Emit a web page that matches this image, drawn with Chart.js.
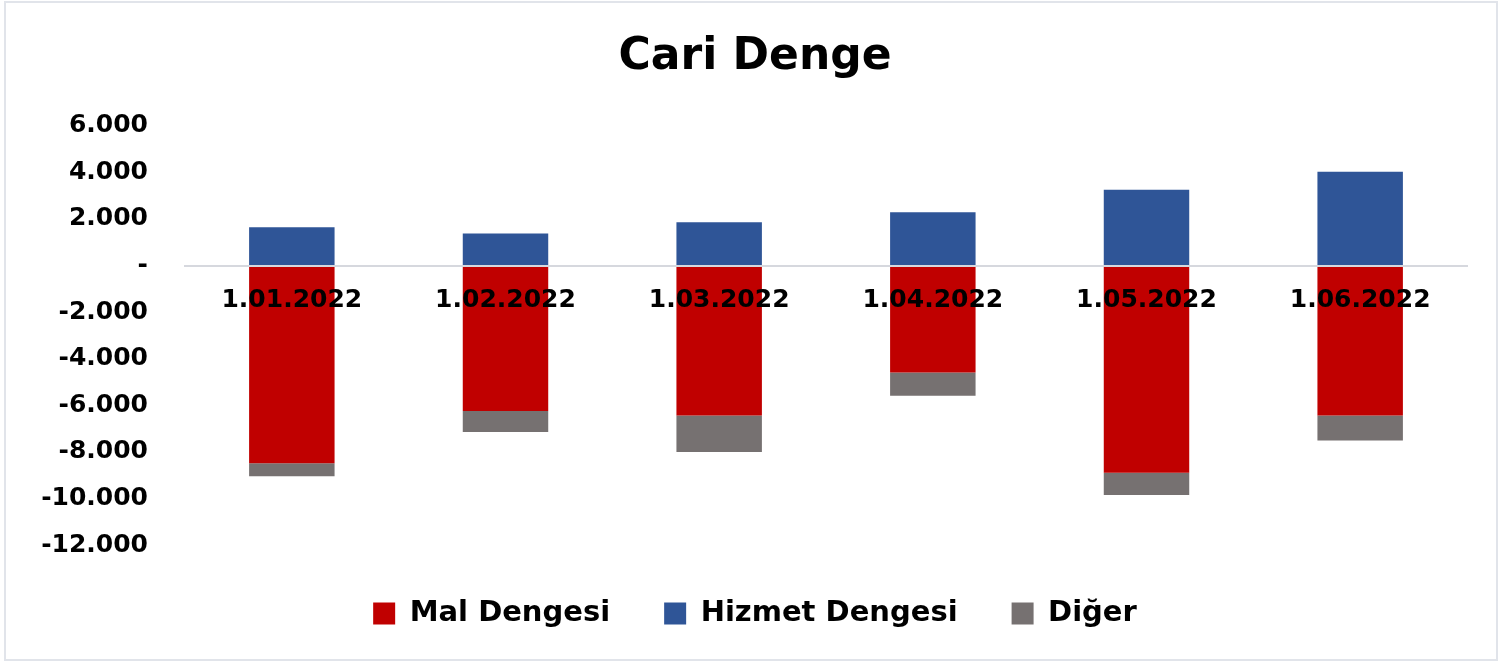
<!DOCTYPE html>
<html>
<head>
<meta charset="utf-8">
<script src="https://cdn.jsdelivr.net/npm/chart.js@4"></script>
<style>
  html, body { margin: 0; padding: 0; background: #fff; }
  #wrap { position: absolute; left: 0; top: 0; width: 1510px; height: 664px; }
  #frame { position: absolute; left: 4px; top: 1px; width: 1494px; height: 660px; box-sizing: border-box; border: 2px solid #e1e4ea; pointer-events: none; }
</style>
</head>
<body>
<div id="wrap"><canvas id="cariChart" width="1510" height="664"></canvas></div>
<div id="frame"></div>
<script>
// aylar ve seriler (milyon $)
const categories = ['1.01.2022', '1.02.2022', '1.03.2022', '1.04.2022', '1.05.2022', '1.06.2022'];
const malDengesi = [-8490, -6250, -6440, -4590, -8900, -6440];
const hizmetDengesi = [1640, 1380, 1860, 2290, 3250, 4030];
const diger = [-560, -900, -1570, -1000, -950, -1070];

const FONT = 'DejaVu Sans';

// 12000 -> "12.000", 0 -> "-"
function trNumber(v) {
    if (v === 0) return '-';
    const s = Math.abs(v).toString().replace(/\B(?=(\d{3})+(?!\d))/g, '.');
    return (v < 0 ? '-' : '') + s;
}

const ctx = document.getElementById('cariChart');
new Chart(ctx, {
    type: 'bar',
    data: {
        labels: categories,
        datasets: [
            { label: 'Mal Dengesi', data: malDengesi, backgroundColor: '#C00000', stack: 's0' },
            { label: 'Hizmet Dengesi', data: hizmetDengesi, backgroundColor: '#2F5597', stack: 's0' },
            { label: 'Diğer', data: diger, backgroundColor: '#767171', stack: 's0' }
        ]
    },
    options: {
        responsive: false,
        animation: false,
        layout: { padding: { left: 0, right: 0, top: 0, bottom: 26 } },
        datasets: { bar: { categoryPercentage: 1, barPercentage: 0.4 } },
        plugins: {
            title: {
                display: true,
                text: 'Cari Denge',
                color: '#000',
                font: { family: FONT, size: 44, weight: 'bold' },
                padding: { top: 31, bottom: 42 }
            },
            legend: {
                position: 'bottom',
                labels: {
                    color: '#000',
                    font: { family: FONT, size: 29, weight: 'bold' },
                    boxWidth: 22,
                    boxHeight: 22,
                    padding: 54
                }
            },
            tooltip: { enabled: false }
        },
        scales: {
            x: {
                stacked: true,
                position: { y: 0 },
                grid: { display: false },
                border: { display: true, color: '#d6d8de', width: 2, z: 1 },
                ticks: {
                    z: 1,
                    color: '#000',
                    font: { family: FONT, size: 25, weight: 'bold' },
                    padding: 12,
                    maxRotation: 0
                }
            },
            y: {
                stacked: true,
                min: -12000,
                max: 6000,
                grid: { display: false },
                border: { display: false },
                afterFit: (s) => { s.width = 185; },
                ticks: {
                    stepSize: 2000,
                    color: '#000',
                    padding: 29,
                    font: { family: FONT, size: 25, weight: 'bold' },
                    callback: (v) => trNumber(v)
                }
            },
            // boş sağ eksen: sadece sağ boşluk için
            yRight: {
                position: 'right',
                grid: { display: false },
                border: { display: false },
                ticks: { display: false },
                afterFit: (s) => { s.width = 43; }
            }
        }
    }
});
</script>
</body>
</html>
